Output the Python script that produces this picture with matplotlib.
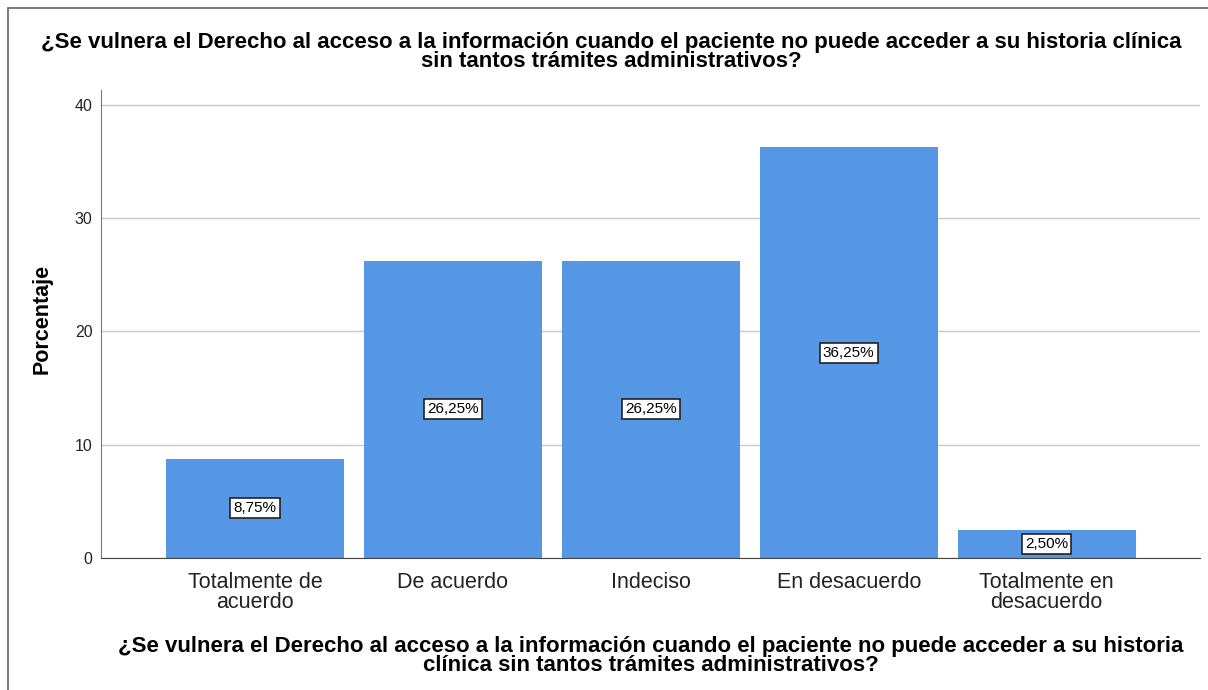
import numpy as np
import matplotlib
matplotlib.use("Agg")
import matplotlib.pyplot as plt
from matplotlib.patches import Rectangle

plt.rcParams['font.family'] = ['Liberation Sans', 'DejaVu Sans']

# -----------------------------------------------------------------------------
# DATA
# -----------------------------------------------------------------------------
categories = ["Totalmente de\nacuerdo", "De acuerdo", "Indeciso",
              "En desacuerdo", "Totalmente en\ndesacuerdo"]
percentages = [8.75, 26.25, 26.25, 36.25, 2.50]
y_ticks = [0, 10, 20, 30, 40]
title = ("¿Se vulnera el Derecho al acceso a la información cuando el paciente no puede acceder a su historia clínica\n"
         "sin tantos trámites administrativos?")
x_title = ("¿Se vulnera el Derecho al acceso a la información cuando el paciente no puede acceder a su historia\n"
           "clínica sin tantos trámites administrativos?")

# -----------------------------------------------------------------------------
# PLOT
# -----------------------------------------------------------------------------
fig = plt.figure(figsize=(12.08, 6.90), dpi=100)
ax = fig.add_axes([101 / 1208, 1 - 558 / 690, 1099 / 1208, 468 / 690])

x = np.arange(len(categories))
bars = ax.bar(x, percentages, width=0.9, color='#5596e5', zorder=2)

for xi, v in zip(x, percentages):
    label = f"{v:.2f}".replace('.', ',') + "%"
    ax.text(xi, v / 2, label, ha='center', va='center', fontsize=11, color='black', zorder=3,
            bbox=dict(boxstyle='square,pad=0.2', facecolor='white', edgecolor='#222222', linewidth=1.2))

ax.set_xlim(-0.778, 4.775)
ax.set_ylim(0, 41.3)
ax.set_yticks(y_ticks)
ax.set_yticklabels([str(t) for t in y_ticks], fontsize=11.5, color='#222222')
ax.set_xticks(x)
ax.set_xticklabels(categories, fontsize=15.5, color='#222222', linespacing=0.95)
ax.tick_params(axis='x', length=0, pad=10)
ax.tick_params(axis='y', length=0, pad=6)
ax.yaxis.grid(True, color='#c8c8c8', linewidth=1, zorder=0)
ax.set_axisbelow(True)

for side in ['top', 'right']:
    ax.spines[side].set_visible(False)
ax.spines['left'].set_color('#777777')
ax.spines['bottom'].set_color('#444444')

ax.set_ylabel("Porcentaje", fontsize=15.5, fontweight='bold')
ax.yaxis.set_label_coords(-0.044, 0.51)
fig.text(0.506, 1 - 52 / 690, title, ha='center', va='center', fontsize=16, fontweight='bold',
         linespacing=0.92)
fig.text(0.539, 1 - 656 / 690, x_title, ha='center', va='center', fontsize=16, fontweight='bold',
         linespacing=0.92)

# outer frame
fig.patches.append(Rectangle((8 / 1208, -0.01), 1.1, 1 - 8 / 690 + 0.01, transform=fig.transFigure,
                             fill=False, edgecolor='#666666', linewidth=1.2))

fig.savefig("out.png", dpi=100)
